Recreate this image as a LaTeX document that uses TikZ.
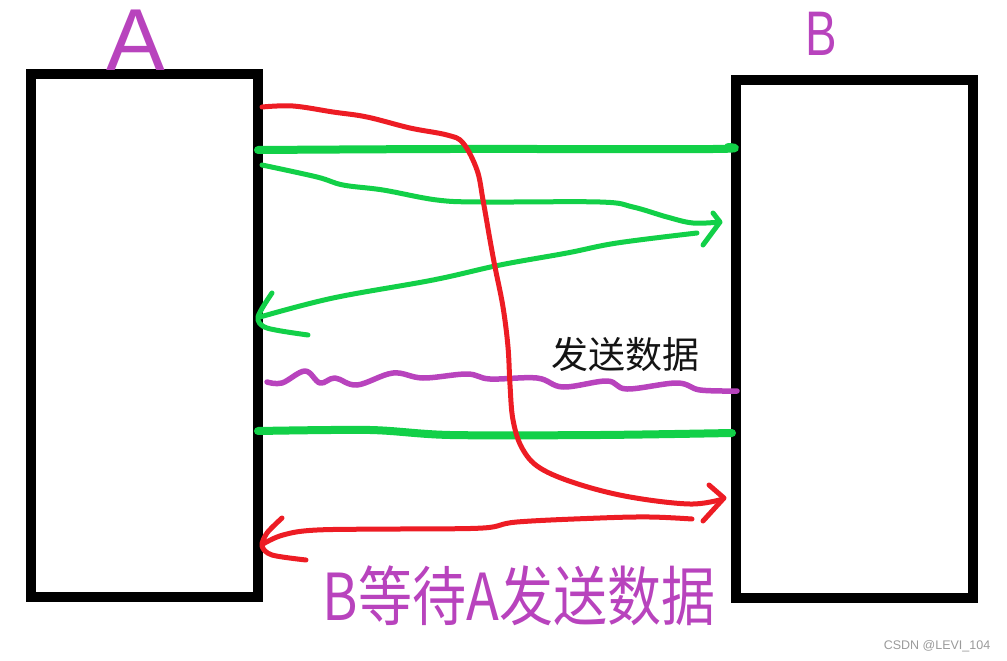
\documentclass[tikz,border=0pt]{standalone}
\usepackage{fontspec}
\setmainfont{Liberation Sans}
\newfontfamily\cjkfont{Noto Sans CJK SC}
\definecolor{penred}{HTML}{ED1C24}
\definecolor{pengreen}{HTML}{12D048}
\definecolor{penpurple}{HTML}{B843BD}
\definecolor{wmgray}{HTML}{9A9A9A}
\tikzset{
  box/.style={draw=black, line width=10pt, fill=white, inner sep=0pt},
  pen/.style={line width=5pt, line cap=round, line join=round},
  redpen/.style={pen, draw=penred},
  greenpen/.style={pen, draw=pengreen},
  thickgreen/.style={pen, draw=pengreen, line width=8pt},
  purplepen/.style={pen, draw=penpurple, line width=5.5pt},
  label/.style={inner sep=0pt, text=penpurple},
}
\begin{document}
\begin{tikzpicture}[x=1pt, y=-1pt]
\useasboundingbox (0,0) rectangle (1007,661);

% boxes
\node[box, minimum width=227pt, minimum height=523pt] (A) at (144.5,335.5) {};
\node[box, minimum width=237pt, minimum height=518pt] (B) at (854.5,339) {};

% labels A and B
\node[label, font=\fontsize{88}{88}\selectfont] (labA) at (136,40) {A};
\node[label, font=\fontsize{63}{63}\selectfont, xscale=0.75] (labB) at (821,34) {B};

% thick green lines
\draw[thickgreen] plot[smooth, tension=0.5] coordinates {(258,150) (450,149) (713,149) (728,147)};
\draw[thickgreen] plot[smooth, tension=0.5] coordinates {(258,431) (370,430) (450,435) (600,435) (732,433)};

% green arrow A -> B
\draw[greenpen] plot[smooth, tension=0.6] coordinates {(262,165) (317,177) (343,185) (383,190) (437,200) (483,202) (600,202) (633,207) (667,217) (693,223) (720,222)};
\draw[greenpen] (713,213) -- (720,222) -- (703,245);

% green arrow B -> A
\draw[greenpen] plot[smooth, tension=0.6] coordinates {(697,233) (617,243) (567,253) (500,265) (433,280) (333,298) (260,317)};
\draw[greenpen] plot[smooth, tension=0.5] coordinates {(272,293) (258,317) (267,328) (308,335)};

% purple wavy line
\draw[purplepen] plot[smooth, tension=0.6] coordinates {(267,382) (282,383) (305,371) (320,383) (335,378) (357,385) (393,373) (423,378) (467,374) (490,379) (537,378) (563,387) (607,381) (627,389) (677,383) (700,390) (737,391)};

% red long curve
\draw[redpen] plot[smooth, tension=0.6] coordinates {(262,107) (293,106) (333,112) (367,117) (410,128) (447,135) (463,143) (477,170) (483,200) (490,240) (495,267) (503,307) (508,347) (510,385) (513,420) (522,448) (540,468) (578,484) (630,497) (690,504) (723,499)};
\draw[redpen] (709,485) -- (724,498) -- (703,521);

% red arrow back to A
\draw[redpen] plot[smooth, tension=0.6] coordinates {(692,519) (650,517) (600,518) (517,522) (483,528) (400,529) (317,530) (283,535) (263,544)};
\draw[redpen] plot[smooth, tension=0.5] coordinates {(282,518) (267,533) (262,546) (272,555) (306,560)};

% texts
\node[inner sep=0pt, text=black!92, font=\cjkfont\fontsize{37}{37}\selectfont] (send) at (625,354) {发送数据};
\node[label, font=\cjkfont\fontsize{54}{54}\selectfont, yscale=1.2] (wait) at (519,596) {B等待A发送数据};
\node[inner sep=0pt, text=wmgray, font=\fontsize{12.5}{12.5}\selectfont] (wm) at (937,646) {CSDN @LEVI\_104};
\end{tikzpicture}
\end{document}
